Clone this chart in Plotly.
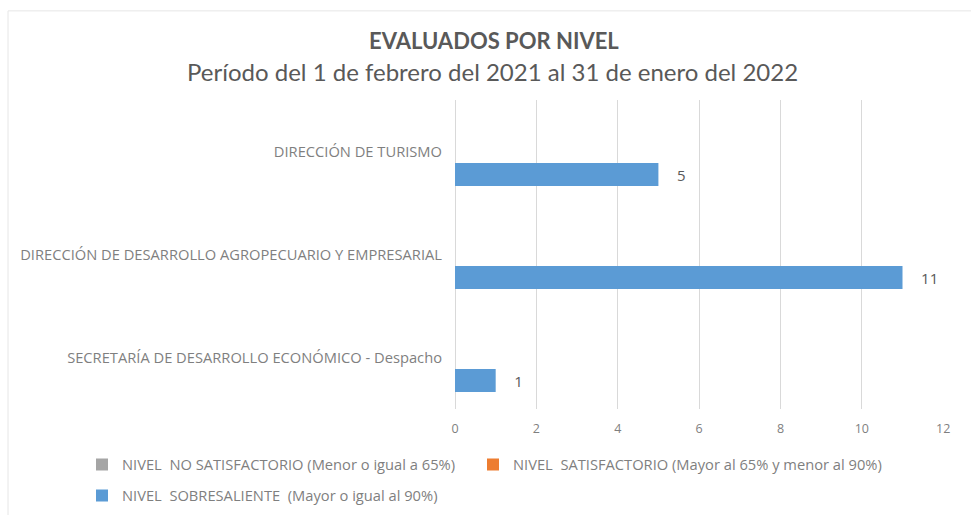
import plotly.graph_objects as go

# Dependencias evaluadas (de arriba hacia abajo)
dependencias = [
    "DIRECCIÓN DE TURISMO",
    "DIRECCIÓN DE DESARROLLO AGROPECUARIO Y EMPRESARIAL",
    "SECRETARÍA DE DESARROLLO ECONÓMICO - Despacho",
]

# Número de evaluados por nivel
no_satisfactorio = [0, 0, 0]
satisfactorio = [0, 0, 0]
sobresaliente = [5, 11, 1]

nombres = [
    "NIVEL  NO SATISFACTORIO (Menor o igual a 65%)",
    "NIVEL  SATISFACTORIO (Mayor al 65% y menor al 90%)",
    "NIVEL  SOBRESALIENTE  (Mayor o igual al 90%)",
]
series = [no_satisfactorio, satisfactorio, sobresaliente]
colores = ["#a5a5a5", "#ed7d31", "#5b9bd5"]

x_ticks = [0, 2, 4, 6, 8, 10, 12]

TITLE_FONT = "Lato, sans-serif"
TEXT_FONT = "Open Sans, sans-serif"
GRIS = "#7f7f7f"

W, H = 971, 515
ML, MR, MT, MB = 455, 27, 100, 103
PW, PH = W - ML - MR, H - MT - MB


def px_x(px):
    return (px - ML) / PW


def px_y(py):
    return (H - MB - py) / PH


# Cada serie lleva su propia leyenda para colocar las entradas en dos filas
leyendas = ["legend", "legend2", "legend3"]
posiciones_leyenda = [(82, 465), (473, 465), (82, 496)]

fig = go.Figure()
for nombre, valores, color, ley in zip(nombres, series, colores, leyendas):
    etiquetas = ["\u00a0" * 4 + str(v) if v else "" for v in valores]
    fig.add_trace(
        go.Bar(
            y=dependencias,
            x=valores,
            name=nombre,
            orientation="h",
            marker=dict(color=color, line=dict(width=0)),
            text=etiquetas,
            textposition="outside",
            textfont=dict(family=TEXT_FONT, size=15, color="#595959"),
            cliponaxis=False,
            legend=ley,
        )
    )

leyenda_cfg = {}
for ley, (lx, ly) in zip(leyendas, posiciones_leyenda):
    leyenda_cfg[ley] = dict(
        orientation="h",
        xref="container",
        yref="container",
        x=lx / W,
        y=1 - ly / H,
        xanchor="left",
        yanchor="middle",
        itemwidth=30,
        bgcolor="rgba(0,0,0,0)",
        font=dict(family=TEXT_FONT, size=14.7, color=GRIS),
    )

fig.update_layout(
    width=W,
    height=H,
    barmode="group",
    bargap=0.33,
    bargroupgap=0,
    paper_bgcolor="white",
    plot_bgcolor="white",
    margin=dict(l=ML, r=MR, t=MT, b=MB),
    font=dict(family=TEXT_FONT, color=GRIS),
    showlegend=True,
    **leyenda_cfg,
    xaxis=dict(
        range=[0, 12.02],
        tickvals=x_ticks,
        showgrid=True,
        gridcolor="#d9d9d9",
        gridwidth=1,
        zeroline=True,
        zerolinecolor="#d9d9d9",
        zerolinewidth=1,
        showline=False,
        ticks="",
        tickfont=dict(family=TEXT_FONT, size=12.5, color=GRIS),
        ticklabelstandoff=10,
    ),
    yaxis=dict(
        autorange="reversed",
        showgrid=False,
        showline=False,
        ticks="",
        tickfont=dict(family=TEXT_FONT, size=14.7, color=GRIS),
        ticklabelstandoff=12,
    ),
    annotations=[
        dict(
            text="<b>EVALUADOS POR NIVEL</b>",
            xref="paper", yref="paper",
            x=px_x(494), y=px_y(40),
            xanchor="center", yanchor="middle",
            showarrow=False,
            font=dict(family=TITLE_FONT, size=22, color="#595959"),
        ),
        dict(
            text="Período del 1 de febrero del 2021 al 31 de enero del 2022",
            xref="paper", yref="paper",
            x=px_x(492), y=px_y(71),
            xanchor="center", yanchor="middle",
            showarrow=False,
            font=dict(family=TITLE_FONT, size=24, color="#595959"),
        ),
    ],
    shapes=[
        dict(
            type="rect",
            xref="paper", yref="paper",
            x0=px_x(8), x1=px_x(980),
            y0=px_y(530), y1=px_y(10),
            line=dict(color="#e6e6e6", width=1),
            fillcolor="rgba(0,0,0,0)",
            layer="below",
        )
    ],
)

fig.write_html("out.html")
